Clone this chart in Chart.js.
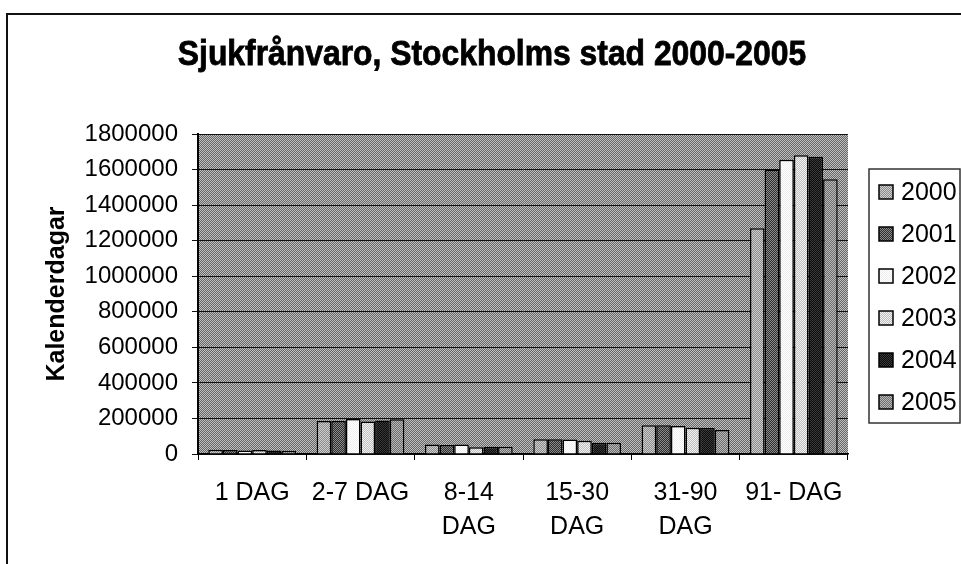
<!DOCTYPE html>
<html>
<head>
<meta charset="utf-8">
<title>Sjukfrånvaro, Stockholms stad 2000-2005</title>
<script src="https://cdn.jsdelivr.net/npm/chart.js@4.4.1/dist/chart.umd.min.js"></script>
<style>
  html, body { margin: 0; padding: 0; background: #fff; }
  #wrap { width: 961px; height: 564px; }
</style>
</head>
<body>
<div id="wrap"><canvas id="grafSjuk" width="961" height="564"></canvas></div>
<script>
// data
const rubrik = 'Sjukfrånvaro, Stockholms stad 2000-2005';
const kategorier = ['1 DAG', '2-7 DAG', ['8-14', 'DAG'], ['15-30', 'DAG'], ['31-90', 'DAG'], '91- DAG'];
const ar = ['2000', '2001', '2002', '2003', '2004', '2005'];
const v2000 = [24000, 185000, 53000, 83000, 162000, 1270000];
const v2001 = [22000, 186000, 50000, 83000, 162000, 1600000];
const v2002 = [20000, 197000, 54000, 82000, 158000, 1655000];
const v2003 = [22000, 183000, 38000, 74000, 147000, 1680000];
const v2004 = [20000, 188000, 41000, 63000, 146000, 1672000];
const v2005 = [18000, 196000, 41000, 63000, 135000, 1545000];
const yTicks = [0, 200000, 400000, 600000, 800000, 1000000, 1200000, 1400000, 1600000, 1800000];

const typsnitt = '"Liberation Sans", Arial, sans-serif';

// small dither patterns, like the old b/w print
function monster(a, b) {
  const c = document.createElement('canvas');
  c.width = 2; c.height = 2;
  const g = c.getContext('2d');
  g.fillStyle = a; g.fillRect(0, 0, 2, 2);
  g.fillStyle = b; g.fillRect(0, 0, 1, 1); g.fillRect(1, 1, 1, 1);
  return g.createPattern(c, 'repeat');
}

const fyllning = [
  monster('#8a8a8a', '#cfcfcf'),
  monster('#2e2e2e', '#8c8c8c'),
  monster('#ffffff', '#eeeeee'),
  monster('#bdbdbd', '#f2f2f2'),
  monster('#0c0c0c', '#3a3a3a'),
  monster('#6e6e6e', '#b8b8b8')
];
const bakgrund = monster('#666666', '#c0c0c0');

const serier = [v2000, v2001, v2002, v2003, v2004, v2005];

// frame, plot background and the heavy title
const ramPlugin = {
  id: 'ram',
  beforeDraw(chart) {
    const ctx = chart.ctx;
    const a = chart.chartArea;
    ctx.save();
    ctx.fillStyle = bakgrund;
    ctx.fillRect(a.left, a.top, a.right - a.left, a.bottom - a.top);
    ctx.strokeStyle = '#111';
    ctx.lineWidth = 2;
    ctx.strokeRect(7, 14, 1000, 600);

    ctx.translate(492, 65);
    ctx.scale(0.91, 1);
    ctx.font = 'bold 35px ' + typsnitt;
    ctx.textAlign = 'center';
    ctx.textBaseline = 'alphabetic';
    ctx.fillStyle = '#000';
    ctx.strokeStyle = '#000';
    ctx.lineWidth = 0.8;
    ctx.fillText(rubrik, 0, 0);
    ctx.strokeText(rubrik, 0, 0);
    ctx.restore();
  }
};

// legend box on the right, drawn by hand
const legendPlugin = {
  id: 'legendRuta',
  afterDraw(chart) {
    const ctx = chart.ctx;
    ctx.save();
    ctx.strokeStyle = '#333';
    ctx.lineWidth = 1.5;
    ctx.strokeRect(869, 169, 91, 254);
    ctx.font = '25px ' + typsnitt;
    ctx.textBaseline = 'middle';
    chart.data.datasets.forEach((ds, i) => {
      const y = 192 + i * 42;
      ctx.fillStyle = ds.backgroundColor;
      ctx.fillRect(879, y - 7, 14, 14);
      ctx.strokeStyle = '#000';
      ctx.lineWidth = 1.5;
      ctx.strokeRect(879, y - 7, 14, 14);
      ctx.fillStyle = '#000';
      ctx.fillText(ds.label, 901, y + 1);
    });
    ctx.restore();
  }
};

const dataBar = {
  labels: kategorier,
  datasets: ar.map((a, i) => ({
    label: a,
    data: serier[i],
    backgroundColor: fyllning[i],
    borderColor: '#000',
    borderWidth: 1.5,
    categoryPercentage: 0.81,
    barPercentage: 1.0
  }))
};

const configBar = {
  type: 'bar',
  data: dataBar,
  options: {
    responsive: false,
    animation: false,
    layout: { padding: { left: 0, right: 113, top: 134, bottom: 0 } },
    plugins: {
      legend: { display: false },
      tooltip: { enabled: false },
      title: { display: false }
    },
    scales: {
      x: {
        afterFit(scale) { scale.height = 110; },
        grid: { drawOnChartArea: false, drawTicks: true, tickLength: 6, color: '#000' },
        border: { color: '#000', width: 1.5 },
        ticks: {
          color: '#000',
          padding: 16,
          maxRotation: 0,
          autoSkip: false,
          font: { family: typsnitt, size: 25, lineHeight: 1.36 }
        }
      },
      y: {
        min: 0,
        max: 1800000,
        afterFit(scale) { scale.width = 198; },
        afterBuildTicks(scale) { scale.ticks = yTicks.map(v => ({ value: v })); },
        grid: { color: '#111', lineWidth: 1, tickLength: 6 },
        border: { color: '#000', width: 2 },
        ticks: {
          color: '#000',
          padding: 14,
          font: { family: typsnitt, size: 24 },
          callback: v => String(v)
        },
        title: {
          display: true,
          text: 'Kalenderdagar',
          color: '#000',
          padding: { top: 42, bottom: 0 },
          font: { family: typsnitt, size: 25, weight: 'bold' }
        }
      }
    }
  },
  plugins: [ramPlugin, legendPlugin]
};

var grafSjuk = new Chart(document.getElementById('grafSjuk'), configBar);
</script>
</body>
</html>
